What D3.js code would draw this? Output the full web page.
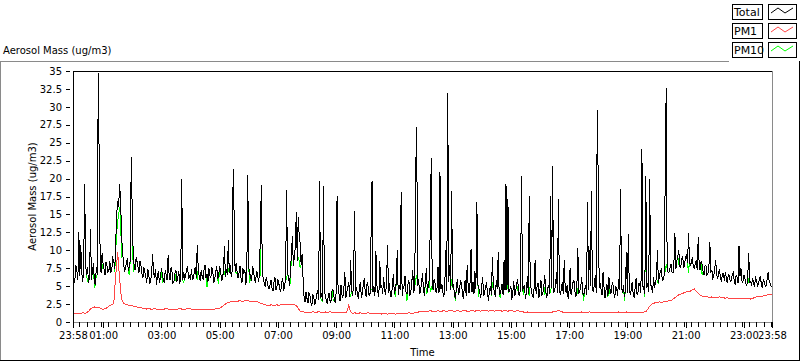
<!DOCTYPE html>
<html><head><meta charset="utf-8">
<script src="https://cdn.jsdelivr.net/npm/d3@7"></script>
<style>
body{margin:0;background:#fff;}
svg{display:block;font-family:"DejaVu Sans",sans-serif;font-size:10px;}
</style></head><body>
<svg id="c" width="800" height="361"></svg>
<script>
// ---------- data: Total and PM10 every 2 minutes, PM1 every 4 minutes, from 23:58 ----------
const fineStep = 2;
const pm1Step = 4;
const total = [
8.3,5.4,6.0,7.9,7.2,5.8,12.6,6.4,10.7,6.9,5.6,7.4,19.2,8.0,6.5,7.7,5.4,6.2,13.0,5.9,
6.9,8.2,5.8,5.1,7.6,6.6,34.7,22.2,8.4,6.8,9.6,8.1,7.4,6.5,8.3,7.9,6.9,7.2,8.5,6.9,
7.3,8.9,8.6,7.4,11.0,15.0,16.8,16.0,19.2,17.0,12.4,9.5,8.6,7.0,7.5,8.2,8.9,7.1,7.8,8.6,
23.0,15.6,9.4,7.9,7.2,9.0,8.4,7.6,6.9,8.5,7.9,6.8,6.1,7.6,7.0,6.3,5.5,7.4,6.6,5.3,
5.9,6.7,9.5,6.9,6.2,7.4,5.2,6.4,7.1,5.5,6.0,7.5,6.8,5.9,5.4,7.2,6.5,5.8,9.4,6.5,
5.8,7.6,6.9,5.4,5.6,6.8,7.3,5.6,6.2,7.1,5.3,6.6,19.9,5.8,7.0,6.1,6.4,7.3,7.8,6.0,
6.6,5.8,7.4,6.0,6.1,7.0,7.7,6.2,10.8,7.5,6.3,5.7,7.2,6.4,5.9,7.3,8.0,6.1,6.7,5.6,
7.5,6.4,6.2,7.6,7.0,5.5,6.0,6.9,7.8,6.0,6.5,7.8,7.1,5.8,6.0,7.2,10.6,6.3,7.4,6.5,
11.5,6.8,7.9,6.3,7.2,21.3,14.5,7.0,8.2,7.0,6.1,6.9,7.8,6.2,5.4,7.5,6.7,7.3,5.2,6.4,
20.5,7.6,6.9,6.1,5.8,7.8,7.1,6.0,5.5,7.0,6.8,5.6,6.5,12.4,19.1,7.2,6.0,5.5,4.9,6.2,
5.6,4.9,4.6,5.2,5.9,4.7,4.3,5.6,6.3,4.5,4.8,6.0,5.4,4.6,4.2,5.5,6.1,4.4,5.0,6.2,
18.4,6.8,6.4,5.0,7.2,9.5,12.0,7.8,9.0,10.5,15.3,8.5,14.6,12.0,11.0,8.0,9.5,6.0,3.5,2.8,
4.2,3.3,2.6,4.0,3.8,2.7,2.2,3.9,3.4,2.4,2.9,3.8,4.5,3.1,19.7,3.4,4.0,2.9,19.0,4.3,
3.6,2.9,2.5,3.7,4.1,2.6,3.0,4.6,4.4,3.3,2.7,4.0,17.6,4.8,3.9,2.9,5.2,3.8,3.4,4.6,
7.0,3.3,4.1,4.8,5.5,3.5,8.6,4.5,3.6,5.4,15.5,3.8,4.8,4.0,3.2,4.9,5.6,3.4,4.0,5.2,
6.1,4.2,3.5,5.6,4.9,3.7,4.0,12.0,19.7,4.2,5.0,3.6,9.9,5.2,4.2,3.5,8.5,4.7,5.1,3.9,
6.3,4.4,3.8,5.7,10.8,4.0,5.4,3.5,3.6,5.0,6.7,3.9,4.5,5.5,10.1,3.8,5.2,4.5,18.1,3.7,
4.6,5.1,6.4,4.2,3.9,5.3,5.8,3.6,4.3,5.6,7.2,4.1,4.8,21.2,27.2,5.0,6.0,3.9,4.4,5.4,
6.8,4.5,3.7,5.8,7.5,4.2,5.0,6.1,13.4,22.8,5.2,4.4,6.0,5.3,4.1,4.8,7.7,4.0,20.9,4.6,
5.3,4.1,3.5,5.4,10.0,4.3,32.0,5.6,8.0,4.4,18.3,4.9,5.2,3.6,3.4,5.0,6.0,3.8,4.2,5.7,
5.4,4.3,3.2,4.7,5.9,3.6,8.0,5.1,4.0,5.5,10.2,4.2,5.6,3.9,7.1,4.6,16.8,5.3,4.7,4.1,
3.3,5.0,6.2,3.6,4.1,4.9,5.5,3.9,3.0,4.4,5.0,3.7,9.0,4.8,4.3,3.5,5.8,4.6,9.8,3.8,
4.0,4.6,5.3,3.8,8.6,4.4,19.2,4.5,17.1,4.2,4.5,5.0,3.1,4.1,5.7,3.6,4.2,5.3,6.0,4.0,
3.6,4.9,20.3,4.3,4.8,5.1,3.2,4.2,6.4,3.9,17.6,5.2,4.6,3.8,3.5,4.7,8.6,3.9,4.9,5.5,
3.4,4.6,5.9,3.7,4.0,5.0,6.5,4.3,3.3,4.8,5.2,3.9,17.6,4.8,21.7,4.1,4.4,5.0,6.9,4.0,
17.1,4.5,3.8,4.6,5.6,3.9,8.6,4.7,4.1,5.2,3.2,4.4,7.5,3.8,4.6,5.5,5.8,4.2,3.5,4.9,
10.3,3.9,4.3,5.0,6.2,4.1,3.6,4.6,5.1,3.8,16.8,4.4,10.0,5.0,18.3,4.6,4.2,5.2,6.6,4.0,
29.6,19.8,4.8,5.4,4.5,3.7,7.0,4.8,3.4,4.5,5.3,3.6,6.3,4.7,3.9,5.0,5.5,4.1,3.3,4.9,
4.8,3.7,6.0,4.4,18.5,4.9,4.0,5.1,3.5,4.4,9.7,4.0,12.3,4.6,3.8,4.4,5.6,3.9,3.4,4.7,
6.1,3.8,4.2,5.4,5.0,4.1,24.1,5.0,4.6,3.9,20.3,4.7,5.4,4.2,19.9,5.2,4.9,4.0,6.2,4.8,
5.5,6.2,10.0,5.4,6.4,7.0,7.3,5.8,5.9,6.6,20.3,32.6,7.5,6.9,7.0,7.6,8.1,7.0,6.8,8.3,
12.4,7.4,8.5,9.2,10.0,7.8,7.6,8.8,9.2,7.5,8.0,9.1,9.4,8.2,12.4,8.6,7.8,8.3,9.0,7.6,
7.5,8.2,8.6,7.3,11.8,8.0,7.2,8.5,8.1,7.0,6.6,7.8,7.9,6.5,6.8,7.6,11.1,6.9,7.3,6.1,
6.4,7.5,8.6,6.6,6.0,6.9,7.2,6.1,5.6,6.8,6.7,5.7,7.0,6.1,5.4,6.6,6.5,5.6,5.8,6.6,
6.9,5.9,5.2,6.5,6.3,5.4,10.6,6.4,7.5,5.8,5.5,6.6,6.2,5.4,5.0,6.3,9.6,5.6,5.7,5.1,
6.1,5.5,4.9,6.2,5.9,5.0,5.3,6.0,6.4,5.3,4.8,5.9,5.6,5.0,5.1,6.0,7.0,5.8,5.4,5.0,
4.9
];
const pm10 = [
8.3,5.4,6.0,7.9,7.2,5.8,12.6,6.4,10.7,6.9,5.6,7.4,19.2,8.0,6.5,5.8,5.4,6.2,13.0,5.9,
6.9,8.2,4.8,5.1,6.5,6.6,34.7,22.2,8.4,6.8,7.5,8.1,7.4,6.5,8.3,7.9,6.9,7.2,8.5,6.9,
7.3,8.9,8.6,7.0,10.0,12.5,14.0,15.0,16.0,14.5,9.0,9.5,8.6,7.0,7.5,8.2,8.9,7.1,6.5,8.6,
23.0,15.6,7.0,7.9,7.2,9.0,8.4,7.6,6.9,8.5,7.9,6.8,6.1,7.6,7.0,6.3,5.5,7.4,6.6,5.3,
5.9,6.7,9.5,6.9,6.2,7.4,5.2,6.4,7.1,5.5,6.0,7.5,5.5,5.9,5.4,7.2,6.5,5.8,9.4,6.5,
5.8,7.6,6.9,5.4,5.6,6.8,5.8,5.6,6.2,7.1,5.3,6.6,19.9,5.8,5.6,6.1,6.4,7.3,7.8,6.0,
6.6,5.8,7.4,6.0,6.1,7.0,7.7,6.2,6.0,7.5,6.3,5.7,7.2,6.4,5.9,7.3,8.0,6.1,4.9,5.6,
7.5,6.4,6.2,7.6,7.0,5.5,6.0,6.9,7.8,6.0,5.3,7.8,7.1,5.8,6.0,7.2,7.0,6.3,7.4,6.5,
7.5,6.8,7.9,6.3,7.2,21.3,14.5,7.0,6.8,7.0,6.1,6.9,7.8,6.2,5.4,7.5,6.7,7.3,5.2,6.4,
20.5,7.6,5.5,6.1,5.8,7.8,7.1,6.0,5.5,7.0,6.8,5.6,6.5,6.5,19.1,7.2,6.0,5.5,4.9,6.2,
5.6,4.9,4.6,5.2,5.9,4.7,4.3,5.6,6.3,4.5,4.8,6.0,5.4,4.6,4.2,5.5,6.1,4.4,5.0,6.2,
6.0,6.8,6.4,5.0,5.5,9.5,12.0,7.8,9.0,10.5,15.3,8.5,9.0,8.5,7.5,8.0,9.5,6.0,3.5,2.8,
4.2,3.3,2.6,4.0,3.8,2.7,2.2,3.9,3.4,2.4,2.9,3.8,4.5,3.1,19.7,3.4,3.0,2.9,19.0,4.3,
3.6,2.9,2.5,3.7,4.1,2.6,3.0,4.6,3.0,3.3,2.7,4.0,17.6,4.8,3.9,2.9,5.2,3.8,3.4,4.6,
7.0,3.3,4.1,4.8,5.5,3.5,3.5,4.5,3.6,5.4,15.5,3.8,4.8,4.0,3.2,4.9,5.6,3.4,4.0,5.2,
6.1,4.2,3.5,5.6,4.9,3.7,4.0,4.5,4.5,4.2,5.0,3.6,9.9,5.2,4.2,3.5,8.5,4.7,5.1,3.9,
6.3,4.4,3.8,5.7,10.8,4.0,5.4,3.5,3.6,5.0,6.7,3.9,3.7,5.5,10.1,3.8,5.2,4.5,18.1,3.7,
4.6,5.1,6.4,4.2,3.0,5.3,5.8,3.6,4.3,5.6,7.2,4.1,4.8,6.0,6.5,5.0,6.0,3.9,4.4,5.4,
6.8,4.5,3.7,5.8,4.0,4.2,5.0,6.1,4.2,4.5,5.2,4.4,6.0,5.3,4.1,4.8,7.7,4.0,20.9,4.6,
5.3,4.1,3.5,5.4,10.0,4.3,32.0,5.6,8.0,4.4,6.0,4.9,5.2,3.6,3.0,5.0,6.0,3.8,4.2,5.7,
5.4,4.3,3.2,4.7,5.9,3.6,8.0,5.1,4.0,5.5,7.0,4.2,5.6,3.9,7.1,4.6,16.8,5.3,3.8,4.1,
3.3,5.0,6.2,3.6,4.1,4.9,5.5,3.9,3.0,4.4,5.0,3.7,5.5,4.8,4.3,3.5,5.8,4.6,9.8,3.8,
3.5,4.6,5.3,3.8,8.6,4.4,19.2,4.5,5.5,4.2,4.5,5.0,3.1,4.1,5.7,3.6,4.2,5.3,4.5,4.0,
3.6,4.9,20.3,4.3,4.0,5.1,3.2,4.2,6.4,3.9,3.8,5.2,4.6,3.8,3.5,4.7,8.6,3.9,4.9,5.5,
3.4,4.6,5.9,3.7,4.0,5.0,3.8,4.3,3.3,4.8,5.2,3.9,4.5,4.8,21.7,4.1,4.4,5.0,6.9,4.0,
17.1,4.5,3.8,4.6,5.6,3.9,8.6,4.7,4.1,5.2,3.2,4.4,7.5,3.8,4.6,5.5,5.8,4.2,3.5,4.9,
4.0,3.9,4.3,5.0,6.2,4.1,2.9,4.6,5.1,3.8,16.8,4.4,10.0,5.0,18.3,4.6,4.2,5.2,6.6,4.0,
29.6,19.8,4.8,5.4,4.5,3.7,7.0,4.8,3.4,4.5,5.3,3.6,3.8,4.7,3.9,5.0,5.5,4.1,3.3,4.9,
4.8,3.7,6.0,4.4,18.5,4.9,4.0,5.1,3.0,4.4,9.7,4.0,12.3,4.6,3.8,4.4,5.6,3.9,3.4,4.7,
6.1,3.8,4.2,5.4,5.0,4.1,24.1,5.0,4.6,3.5,20.3,4.7,5.4,4.2,19.9,5.2,4.9,4.0,6.2,4.8,
5.5,6.2,5.5,5.4,6.4,7.0,7.3,5.8,5.9,6.6,7.0,8.0,7.5,6.9,7.0,7.6,8.1,7.0,6.8,8.3,
12.4,7.4,8.5,9.2,8.0,7.8,7.6,8.8,9.2,7.5,8.0,9.1,9.4,8.2,6.8,8.6,7.8,8.3,9.0,7.6,
7.5,8.2,8.6,7.3,11.8,8.0,7.2,8.5,6.6,7.0,6.6,7.8,7.9,6.5,6.8,7.6,11.1,6.9,7.3,6.1,
6.4,7.5,8.6,6.6,6.0,6.9,7.2,6.1,5.6,6.8,6.7,5.7,7.0,6.1,5.4,6.6,6.5,5.6,5.8,6.6,
6.9,5.9,5.2,6.5,6.3,5.4,10.6,6.4,7.5,5.8,5.5,6.6,6.2,5.4,5.0,6.3,5.5,5.6,5.7,5.1,
6.1,5.5,4.9,6.2,5.9,5.0,5.3,6.0,6.4,5.3,4.8,5.9,5.6,5.0,5.1,6.0,7.0,5.8,5.4,5.0,
4.9
];
const pm1 = [
1.2,1.1,1.2,1.2,1.2,1.3,1.2,1.3,1.5,1.8,2.0,2.1,2.0,2.1,1.9,1.8,1.8,1.9,2.1,2.3,
2.4,2.6,6.5,9.7,6.0,3.2,2.6,2.5,2.4,2.3,2.3,2.2,2.2,2.1,2.0,2.0,1.9,1.9,1.8,1.9,
1.8,1.8,1.9,1.8,1.8,1.7,1.8,1.8,1.9,1.8,1.8,1.8,1.7,1.8,1.8,1.9,1.8,1.8,1.8,1.9,
1.9,1.8,1.8,1.7,1.8,1.8,1.7,1.7,1.8,1.8,1.8,1.7,1.8,1.8,1.9,1.9,2.0,2.2,2.4,2.6,
2.7,2.8,2.8,2.9,2.8,2.9,3.0,2.9,2.9,3.0,3.0,2.9,2.9,2.8,2.9,2.8,2.7,2.6,2.5,2.4,
2.3,2.3,2.4,2.3,2.3,2.4,2.3,2.4,2.4,2.4,2.5,2.4,2.4,2.5,2.4,2.3,1.9,1.5,1.4,1.4,
1.3,1.4,1.3,1.4,1.4,1.3,1.4,1.4,1.3,1.3,1.4,1.3,1.4,1.4,1.3,1.4,1.3,1.3,1.4,1.3,
1.3,1.4,2.3,1.4,1.2,1.3,1.2,1.2,1.3,1.2,1.2,1.2,1.3,1.2,1.2,1.1,1.2,1.2,1.2,1.1,
1.2,1.2,1.1,1.2,1.2,1.2,1.1,1.2,1.2,1.2,1.1,1.2,1.2,1.3,1.2,1.2,1.3,1.3,1.4,1.5,
1.5,1.4,1.5,1.5,1.6,1.5,1.5,1.5,1.6,1.5,1.5,1.6,1.5,1.5,1.6,1.6,1.5,1.5,1.6,1.5,
1.5,1.6,1.6,1.5,1.5,1.6,1.6,1.5,1.6,1.6,1.5,1.6,1.6,1.6,1.5,1.6,1.6,1.5,1.6,1.6,
1.6,1.5,1.6,1.6,1.5,1.6,1.6,1.5,1.5,1.6,1.5,1.4,1.4,1.3,1.4,1.3,1.3,1.4,1.3,1.3,
1.3,1.4,1.3,1.3,1.4,1.3,1.3,1.4,1.4,1.5,1.6,1.5,1.4,1.3,1.3,1.4,1.3,1.3,1.4,1.3,
1.3,1.3,1.4,1.3,1.3,1.3,1.4,1.3,1.3,1.3,1.4,1.3,1.3,1.3,1.4,1.3,1.3,1.4,1.3,1.3,
1.3,1.4,1.3,1.3,1.3,1.4,1.3,1.3,1.3,1.4,1.3,1.3,1.3,1.3,1.4,1.4,1.8,2.2,2.5,2.6,
2.7,2.7,2.8,2.7,2.8,2.9,2.9,3.0,3.0,3.2,3.4,3.6,3.8,3.9,4.0,4.1,4.2,4.2,4.3,4.5,
4.6,4.3,4.0,3.7,3.6,3.6,3.5,3.5,3.4,3.5,3.4,3.4,3.4,3.5,3.4,3.4,3.3,3.4,3.3,3.3,
3.3,3.3,3.2,3.3,3.3,3.3,3.2,3.3,3.3,3.2,3.3,3.4,3.5,3.5,3.6,3.6,3.7,3.7,3.8,3.8,3.8
];
const yTicks = [0,2.5,5,7.5,10,12.5,15,17.5,20,22.5,25,27.5,30,32.5,35];
const xTickMinutes = [0,62,182,302,422,542,662,782,902,1022,1142,1262,1382,1440];
const xTickLabels = ["23:58","01:00","03:00","05:00","07:00","09:00","11:00","13:00","15:00","17:00","19:00","21:00","23:00","23:58"];
const minorStep = 15;
const legendNames = ["Total","PM1","PM10"];
const seriesColors = {Total:"#000000", PM1:"#ff4545", PM10:"#00ff00"};
const chartTitle = "Aerosol Mass (ug/m3)";
const yTitle = "Aerosol Mass (ug/m3)";
const xTitle = "Time";

// ---------- layout ----------
const svg = d3.select("#c");
const L = 73, R = 772, T = 71, B = 322;
const x = d3.scaleLinear().domain([0, 1440]).range([L, R]);
const y = d3.scaleLinear().domain([0, 35]).range([B, T]);

svg.append("rect").attr("width",800).attr("height",361).attr("fill","#fff");
function ln(x1,y1,x2,y2,c){ svg.append("line").attr("x1",x1).attr("y1",y1).attr("x2",x2).attr("y2",y2).attr("stroke",c).attr("shape-rendering","crispEdges"); }
ln(0,61.5,729,61.5,"#8a8a8a");
ln(0.5,61,0.5,361,"#8a8a8a");
ln(0,360.5,800,360.5,"#000");
ln(799.5,61,799.5,361,"#000");

svg.append("text").attr("x",3).attr("y",54).text(chartTitle);

svg.append("clipPath").attr("id","pc").append("rect").attr("x",L+1).attr("y",T+1).attr("width",R-L-1).attr("height",B-T-1);
const g = svg.append("g").attr("clip-path","url(#pc)");
const mk = (arr, step) => arr.map((v,i)=>[i*step, v]);
const line = d3.line().x(d=>x(d[0])).y(d=>y(d[1]));
const drawOrder = [["PM10",pm10,fineStep],["Total",total,fineStep],["PM1",pm1,pm1Step]];
drawOrder.forEach(([name,arr,step])=>{
  g.append("path").datum(mk(arr,step)).attr("d",line).attr("fill","none")
   .attr("stroke",seriesColors[name]).attr("stroke-width",1)
   .attr("shape-rendering","crispEdges");
});

// frame
ln(L,T+0.5,R,T+0.5,"#000");
ln(L+0.5,T,L+0.5,B+1,"#000");
ln(R+0.5,T,R+0.5,B+1,"#8a8a8a");
ln(L,B+0.5,R+1,B+0.5,"#8a8a8a");

// y axis
const ya = svg.append("g").attr("transform","translate(70,0)")
  .call(d3.axisLeft(y).tickValues(yTicks).tickSize(4).tickPadding(4).tickSizeOuter(0)
  .tickFormat(d=>String(d)));
ya.select(".domain").remove();
ya.selectAll("line").attr("shape-rendering","crispEdges");
ya.selectAll("text").attr("font-size",10).attr("font-family","DejaVu Sans").attr("fill","#000");

// x axis: minor ticks then labelled ticks
const minorVals = d3.range(0, 1441, 1).filter(m => ((m + 2) % minorStep) === 0);
const xm = svg.append("g").attr("transform",`translate(0,${B})`)
  .call(d3.axisBottom(x).tickValues(minorVals).tickSize(5).tickFormat(""));
xm.select(".domain").remove();
xm.selectAll("line").attr("shape-rendering","crispEdges");
const xa = svg.append("g").attr("transform",`translate(0,${B})`)
  .call(d3.axisBottom(x).tickValues(xTickMinutes).tickSize(6).tickPadding(4)
  .tickFormat((d,i)=>xTickLabels[i]));
xa.select(".domain").remove();
xa.selectAll("line").attr("shape-rendering","crispEdges");
xa.selectAll("text").attr("font-size",10).attr("font-family","DejaVu Sans").attr("fill","#000");

svg.append("text").attr("x",(L+R)/2).attr("y",356).attr("text-anchor","middle").text(xTitle);
svg.append("text").attr("transform",`translate(36,${(T+B)/2}) rotate(-90)`).attr("text-anchor","middle").text(yTitle);

// legend
legendNames.forEach((name,k)=>{
  const ty = 4 + k*19;
  svg.append("rect").attr("x",732.5).attr("y",ty+0.5).attr("width",30).attr("height",15)
    .attr("fill","#fff").attr("stroke","#000").attr("shape-rendering","crispEdges");
  svg.append("text").attr("x",734).attr("y",ty+12).attr("font-size",11).text(name);
  svg.append("rect").attr("x",768.5).attr("y",ty+0.5).attr("width",28).attr("height",15)
    .attr("fill","#fff").attr("stroke","#000").attr("shape-rendering","crispEdges");
  svg.append("path").attr("d",d3.line()([[771,ty+9],[778,ty+4],[785,ty+9],[793,ty+4]]))
    .attr("fill","none").attr("stroke",seriesColors[name]).attr("stroke-width",1);
});
</script>
</body></html>
